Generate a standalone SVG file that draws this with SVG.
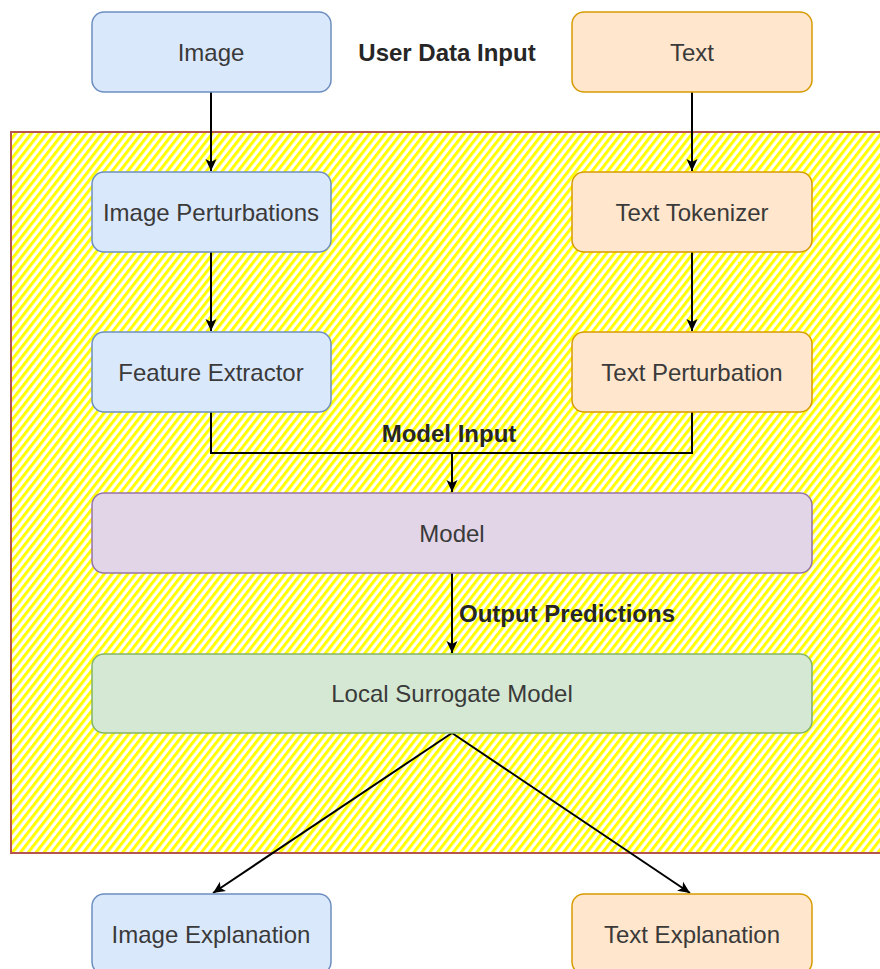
<svg xmlns="http://www.w3.org/2000/svg" width="880" height="969" viewBox="0 0 880 969">
  <defs>
    <pattern id="hatch" patternUnits="userSpaceOnUse" width="6.2" height="10" patternTransform="rotate(38)">
      <rect x="0" y="0" width="3" height="10" fill="#ffff00"/>
    </pattern>
    <marker id="arrow" viewBox="0 0 12 12" refX="12" refY="6" markerWidth="12" markerHeight="12" markerUnits="userSpaceOnUse" orient="auto">
      <path d="M0,0.5 L12,6 L0,11.5 L3,6 Z" fill="#000"/>
    </marker>
    <style>
      .box { stroke-width: 1.5; }
      .blue { fill: #dae8fc; stroke: #6c8ebf; }
      .orange { fill: #ffe6cc; stroke: #d79b00; }
      .purple { fill: #e1d5e7; stroke: #9673a6; }
      .green { fill: #d5e8d4; stroke: #82b366; }
      .lbl { font-family: "Liberation Sans", Arial, sans-serif; font-size: 24px; fill: #3a3a3a; text-anchor: middle; }
      .bold { font-family: "Liberation Sans", Arial, sans-serif; font-size: 24px; font-weight: bold; fill: #262626; }
      .edge { fill: none; stroke: #000; stroke-width: 2; }
    </style>
  </defs>

  <rect width="880" height="969" fill="#fff"/>

  <!-- hatched processing area -->
  <g id="processing-area">
    <rect x="11" y="132" width="880" height="721" fill="url(#hatch)" stroke="#b85450" stroke-width="2"/>
  </g>

  <!-- connectors -->
  <g id="connectors">
    <path class="edge" d="M211,92 L211,171" marker-end="url(#arrow)"/>
    <path class="edge" d="M692,92 L692,171" marker-end="url(#arrow)"/>
    <path class="edge" d="M211,252 L211,331" marker-end="url(#arrow)"/>
    <path class="edge" d="M692,252 L692,331" marker-end="url(#arrow)"/>
    <path class="edge" d="M211,412 L211,453 L692,453 L692,412"/>
    <path class="edge" d="M452,453 L452,492" marker-end="url(#arrow)"/>
    <path class="edge" d="M452,573 L452,653" marker-end="url(#arrow)"/>
    <path class="edge" d="M452,733 L213,893" marker-end="url(#arrow)"/>
    <path class="edge" d="M452,733 L690,893" marker-end="url(#arrow)"/>
    <text class="bold" x="449" y="442" text-anchor="middle">Model Input</text>
    <text class="bold" x="459" y="622">Output Predictions</text>
  </g>

  <text id="user-data-input" class="bold" x="447" y="61" text-anchor="middle">User Data Input</text>

  <g id="image">
    <rect class="box blue" x="92" y="12" width="239" height="80" rx="12"/>
    <text class="lbl" x="211" y="61">Image</text>
  </g>
  <g id="text">
    <rect class="box orange" x="572" y="12" width="240" height="80" rx="12"/>
    <text class="lbl" x="692" y="61">Text</text>
  </g>
  <g id="image-perturbations">
    <rect class="box blue" x="92" y="172" width="239" height="80" rx="12"/>
    <text class="lbl" x="211" y="221">Image Perturbations</text>
  </g>
  <g id="text-tokenizer">
    <rect class="box orange" x="572" y="172" width="240" height="80" rx="12"/>
    <text class="lbl" x="692" y="221">Text Tokenizer</text>
  </g>
  <g id="feature-extractor">
    <rect class="box blue" x="92" y="332" width="239" height="80" rx="12"/>
    <text class="lbl" x="211" y="381">Feature Extractor</text>
  </g>
  <g id="text-perturbation">
    <rect class="box orange" x="572" y="332" width="240" height="80" rx="12"/>
    <text class="lbl" x="692" y="381">Text Perturbation</text>
  </g>
  <g id="model">
    <rect class="box purple" x="92" y="493" width="720" height="80" rx="12"/>
    <text class="lbl" x="452" y="542">Model</text>
  </g>
  <g id="local-surrogate-model">
    <rect class="box green" x="92" y="654" width="720" height="79" rx="12"/>
    <text class="lbl" x="452" y="702">Local Surrogate Model</text>
  </g>
  <g id="image-explanation">
    <rect class="box blue" x="92" y="894" width="239" height="80" rx="12"/>
    <text class="lbl" x="211" y="943">Image Explanation</text>
  </g>
  <g id="text-explanation">
    <rect class="box orange" x="572" y="894" width="240" height="80" rx="12"/>
    <text class="lbl" x="692" y="943">Text Explanation</text>
  </g>
</svg>
